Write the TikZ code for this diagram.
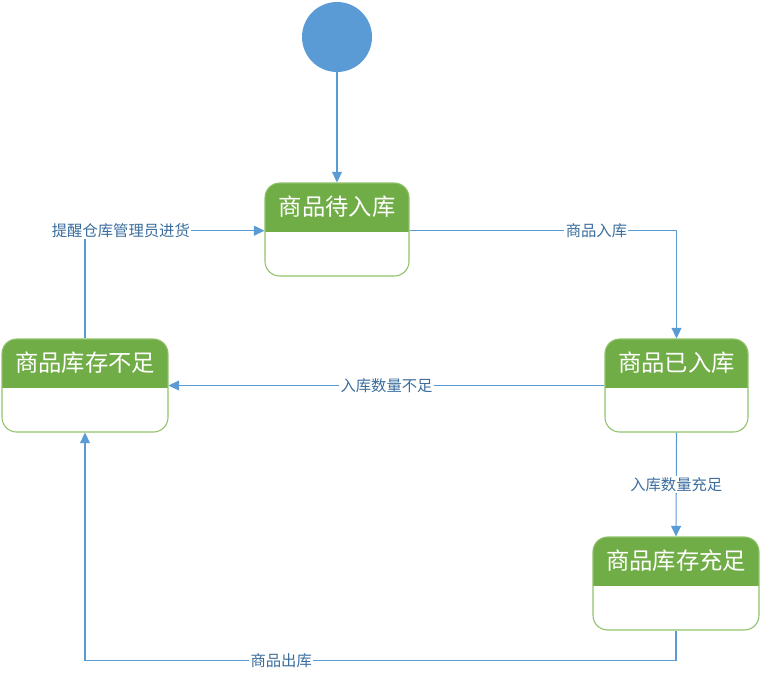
\documentclass[tikz,border=0pt]{standalone}
\usepackage{fontspec}
\newfontfamily\cjk{Noto Sans CJK SC}
\usetikzlibrary{arrows.meta,positioning,calc}
\definecolor{hdrgreen}{HTML}{70AD47}
\definecolor{boxline}{HTML}{8FC16A}
\definecolor{flowblue}{HTML}{5B9BD5}
\definecolor{labblue}{HTML}{3B6E9E}

\tikzset{
  state/.style={rounded corners=11pt, draw=boxline, line width=0.8pt, minimum height=69.75pt,
    path picture={\fill[hdrgreen, sharp corners] (path picture bounding box.north west) rectangle
      ([yshift=-36.75pt]path picture bounding box.north east);}},
  statetitle/.style={text=white, font=\cjk\fontsize{17.5}{20}\selectfont, inner sep=0pt},
  flow/.style={draw=flowblue, line width=0.8pt, -{Triangle[length=8pt,width=7.5pt]}},
  flowlabel/.style={fill=white, text=labblue, font=\cjk\fontsize{11.5}{13}\selectfont, inner sep=1pt}
}

\begin{document}
\begin{tikzpicture}[x=0.75pt,y=-0.75pt]
	\useasboundingbox (0,0) rectangle (762,682);
	
	% start
	\node[circle, fill=flowblue, minimum size=52.5pt, inner sep=0pt] (start) at (337,37) {};
	
	% states
	\node[state, minimum width=108pt] (waiting) at (337,229.5) {};
	\node[state, minimum width=107.25pt] (stored) at (676.5,385.5) {};
	\node[state, minimum width=124.5pt] (short) at (85,385.5) {};
	\node[state, minimum width=124.5pt] (enough) at (676,583.5) {};
	
	\node[statetitle] (waitingt) at ([yshift=-18.4pt]waiting.north) {商品待入库};
	\node[statetitle] (storedt) at ([yshift=-18.4pt]stored.north) {商品已入库};
	\node[statetitle] (shortt) at ([yshift=-18.4pt]short.north) {商品库存不足};
	\node[statetitle] (enought) at ([yshift=-18.4pt]enough.north) {商品库存充足};
	
	% transitions
	\draw[flow] (start) -- (waiting);
	\draw[flow] ([yshift=-0.9pt]waiting.east) -| node[flowlabel, pos=0.35] {商品入库} (stored.north);
	\draw[flow] (stored.west) -- node[flowlabel] {入库数量不足} (short.east);
	\draw[flow] (stored.south) -- node[flowlabel] {入库数量充足} (enough.north);
	\draw[flow] (enough.south) -- ++(0,30) coordinate (out) -| node[flowlabel, pos=0.334] {商品出库} (short.south);
	\draw[flow] (short.north) |- node[flowlabel, pos=0.6] {提醒仓库管理员进货} ([yshift=-0.9pt]waiting.west);
\end{tikzpicture}
\end{document}
